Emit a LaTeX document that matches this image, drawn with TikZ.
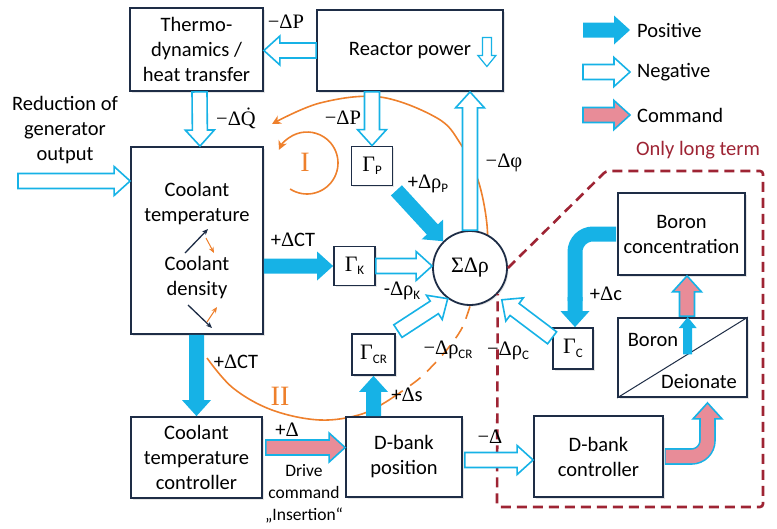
\documentclass[tikz,border=0pt]{standalone}
\usepackage{amsmath}
\usepackage{fontspec}
\setmainfont{Carlito}
\newfontfamily\gr{Liberation Serif}
\usetikzlibrary{arrows.meta,calc,positioning,shadows}
\definecolor{PosCyan}{RGB}{22,178,230}
\definecolor{CmdPink}{RGB}{232,140,152}
\definecolor{BoxNavy}{RGB}{30,45,70}
\definecolor{LoopOrange}{RGB}{238,128,44}
\definecolor{LongRed}{RGB}{158,36,52}
\newcommand{\fs}{\fontsize{20.5}{25}\selectfont}
\newcommand{\sub}[1]{\raisebox{-0.35ex}{\fontsize{13}{13}\selectfont #1}}
\newcommand{\Gam}{{\gr\fontsize{22}{22}\selectfont Γ}}
\newcommand{\arrW}{7.5pt}
\newcommand{\arrH}{14.5pt}
\newcommand{\arrL}{16pt}
% block arrow: style, from, to
\newcommand{\blockarrow}[3]{%
  \coordinate (ba-s) at #2;
  \coordinate (ba-t) at #3;
  \coordinate (ba-b) at ($(ba-t)!\arrL!(ba-s)$);
  \path[#1] ($(ba-s)!\arrW!90:(ba-t)$) -- ($(ba-b)!\arrW!-90:(ba-s)$)
    -- ($(ba-b)!\arrH!-90:(ba-s)$) -- (ba-t) -- ($(ba-b)!\arrH!90:(ba-s)$)
    -- ($(ba-b)!\arrW!90:(ba-s)$) -- ($(ba-s)!\arrW!-90:(ba-t)$) -- cycle;}

\begin{document}
\begin{tikzpicture}[x=1pt, y=-1pt,
    box/.style={draw=BoxNavy, line width=1.8pt, fill=white, align=center, font=\fs,
                inner sep=2pt, drop shadow={shadow xshift=1.5pt, shadow yshift=-1.5pt, opacity=0.2}},
    gbox/.style={box, minimum width=41, minimum height=39},
    lbl/.style={font=\fs, inner sep=0},
    posarrow/.style={fill=PosCyan},
    negarrow/.style={fill=white, draw=PosCyan, line width=1.6pt},
    cmdarrow/.style={fill=CmdPink, draw=PosCyan, line width=1.6pt},
    loopline/.style={draw=LoopOrange, line width=1.6pt},
    looptip/.style={-{Stealth[length=9pt, width=9pt]}},
    loopnum/.style={font=\gr\fontsize{28}{28}\selectfont, text=LoopOrange, inner sep=0},
    minor/.style={line width=1.3pt, -{Stealth[length=6pt, width=5pt]}},
    longterm/.style={draw=LongRed, line width=2.6pt, dash pattern=on 10pt off 6pt, rounded corners=3pt},
    node distance=6pt
]
    \useasboundingbox (0,0) rectangle (777,528);

    % feedback loops
    \draw[loopline] plot[smooth, tension=0.6] coordinates {(207,358) (233,388) (272,410) (320,420) (362,414) (392,398)};
    \draw[loopline, dash pattern=on 13pt off 9pt] plot[smooth] coordinates {(392,398) (420,378) (445,352) (462,328) (472,300)};
    \draw[loopline, looptip] plot[smooth, tension=0.6] coordinates {(472,300) (485,255) (487,225) (478,180) (460,143) (437,118) (380,97) (320,103) (272,124)};
    \draw[loopline, looptip] (307,163) ++(123:31) arc[start angle=123, end angle=-155, radius=31];
    \node[loopnum] (loopI) at (305,162) {I};
    \node[loopnum] (loopII) at (280,396) {II};

    % blocks
    \node[box, minimum width=133, minimum height=83] (thermo) at (196.5,49.5) {Thermo-\\dynamics /\\heat transfer};
    \node[box, minimum width=186, minimum height=81] (reactor) at (410,50.5) {Reactor power};
    \node[box, minimum width=132, minimum height=187] (coolant) at (197,240.5)
        {Coolant\\temperature\\[24pt]Coolant\\density};
    \node[box, minimum width=131, minimum height=81] (ctc) at (196.5,457.5) {Coolant\\temperature\\controller};
    \node[box, minimum width=116, minimum height=80] (dbpos) at (404,457) {D-bank\\position};
    \node[box, minimum width=129, minimum height=81] (dbctrl) at (598.5,456.5) {D-bank\\controller};
    \node[box, minimum width=127, minimum height=82] (boron) at (681.5,234) {Boron\\concentration};
    \node[box, minimum width=129, minimum height=79] (bordei) at (682.5,357.5) {};
    \node[gbox] (gammaP) at (372,166) {\Gam\sub{P}};
    \node[gbox] (gammaK) at (354.5,266) {\Gam\sub{K}};
    \node[gbox, minimum width=43, minimum height=41] (gammaCR) at (373.5,354.5) {\Gam\sub{CR}};
    \node[gbox, minimum width=40, minimum height=41] (gammaC) at (573,348.5) {\Gam\sub{C}};
    \node[box, circle, minimum size=74, inner sep=0, font=\gr\fontsize{22}{22}\selectfont] (sum) at (470,268) {ΣΔρ};

    % boron / deionate split
    \draw[BoxNavy, line width=1pt] (bordei.south west) -- (bordei.north east);
    \node[lbl] (boronlbl) at (653,340) {Boron};
    \node[lbl] (deionlbl) at (699,382) {Deionate};

    % coolant coupling
    \draw[BoxNavy, minor] ($(coolant.center)+(-12,12.5)$) -- ++(23,-24);
    \draw[LoopOrange, minor, line width=1pt] ($(coolant.center)+(9,-2.5)$) -- ++(8,15);
    \draw[BoxNavy, minor] ($(coolant.center)+(-9,64.5)$) -- ++(24,23);
    \draw[LoopOrange, minor, line width=1pt] ($(coolant.center)+(10,81.5)$) -- ++(10,-15);

    % long term region
    \draw[longterm] (sum.east) -- (606,171) -- (763,171) -- (763,507) -- (497,507) -- (sum.-43);
    \node[lbl, text=LongRed] (longlbl) at (698,150) {Only long term};

    % input
    \node[lbl, align=center] (redu) at (65,130) {Reduction of\\generator\\output};
    \coordinate (redstart) at (18,181);
    \blockarrow{negarrow}{(redstart)}{(coolant.west |- redstart)}

    % connectors
    \blockarrow{negarrow}{(reactor.west)}{(thermo.east |- reactor.west)}
    \blockarrow{negarrow}{($(thermo.south)+(3,0)$)}{($(coolant.north)+(3,0)$)}
    \blockarrow{negarrow}{(reactor.south -| gammaP.north)}{(gammaP.north)}
    \blockarrow{posarrow}{($(gammaP.south east)+(3,4)$)}{(sum.135)}
    \blockarrow{negarrow}{(sum.north)}{(reactor.south -| sum.north)}
    \blockarrow{posarrow}{(coolant.east |- gammaK.west)}{(gammaK.west)}
    \blockarrow{negarrow}{(gammaK.east)}{(sum.west |- gammaK.east)}
    \blockarrow{negarrow}{($(gammaCR.north east)+(2,-2)$)}{(sum.234)}
    \blockarrow{posarrow}{(gammaCR.south |- dbpos.north)}{(gammaCR.south)}
    \blockarrow{posarrow}{(ctc.north |- coolant.south)}{(ctc.north)}
    \coordinate (cmdA) at ($(ctc.east)+(3,-10)$);
    \blockarrow{cmdarrow}{(cmdA)}{(dbpos.west |- cmdA)}
    \coordinate (negA) at ($(dbpos.east)+(2,3)$);
    \blockarrow{negarrow}{(negA)}{(dbctrl.west |- negA)}
    \coordinate (negC) at ($(gammaC.north west)!0.25!(gammaC.south west)$);
    \blockarrow{negarrow}{(negC)}{($(sum.-45)+(5,5)$)}
    \coordinate (cmdB) at ($(bordei.north)+(4.5,-1)$);
    \blockarrow{cmdarrow}{(cmdB)}{(boron.south -| cmdB)}

    % bent arrows
    \draw[PosCyan, line width=15pt, rounded corners=18pt] ($(boron.west)+(-1,0)$) -| ($(gammaC.north)+(2,-26)$);
    \blockarrow{posarrow}{($(gammaC.north)+(2,-30)$)}{($(gammaC.north)+(2,0)$)}
    \coordinate (cmdtip) at ($(bordei.south)+(25,5)$);
    \draw[PosCyan, line width=16.6pt, rounded corners=16pt] ($(dbctrl.east)+(1,0)$) -| ($(cmdtip)+(0,24)$);
    \blockarrow{cmdarrow}{($(cmdtip)+(0,30)$)}{(cmdtip)}
    \draw[CmdPink, line width=13.4pt, rounded corners=16pt] ($(dbctrl.east)+(1.8,0)$) -| ($(cmdtip)+(0,24)$);

    % small arrows inside blocks
    \begin{scope}
        \renewcommand{\arrW}{4.5pt}\renewcommand{\arrH}{9pt}\renewcommand{\arrL}{11pt}
        \blockarrow{negarrow, line width=1.2pt}{($(reactor.east)+(-17,-13)$)}{($(reactor.east)+(-17,16)$)}
        \coordinate (bd) at ($(bordei.south west)!0.54!(bordei.north east)$);
        \blockarrow{posarrow}{(bd)}{(bd |- bordei.north)}
    \end{scope}

    % labels
    \node[lbl] (lPth) at (286,22) {{\gr −ΔP}};
    \node[lbl] (lQ) at (236,118) {{\gr −ΔQ̇}};
    \node[lbl] (lPg) at (343,118) {{\gr −ΔP}};
    \node[lbl] (lrhoP) at (428,184) {+{\gr Δρ}\sub{P}};
    \node[lbl] (lphi) at (504,163) {{\gr −Δφ}};
    \node[lbl] (lCTa) at (293,240) {+{\gr Δ}CT};
    \node[lbl] (lrhoK) at (402,291) {-{\gr Δρ}\sub{K}};
    \node[lbl] (lrhoCR) at (448,350) {{\gr −Δρ}\sub{CR}};
    \node[lbl] (ls) at (407,395) {+{\gr Δ}s};
    \node[lbl] (lCTb) at (236,362) {+{\gr Δ}CT};
    \node[lbl] (lplus) at (287,430) {+{\gr Δ}};
    \node[lbl, align=center, font=\fontsize{17.5}{22}\selectfont] (ldrive) at (304,494) {Drive\\command\\„Insertion“};
    \node[lbl] (lminus) at (490,437) {{\gr −Δ}};
    \node[lbl] (lc) at (606,294) {+{\gr Δ}c};
    \node[lbl] (lrhoC) at (508,351) {{\gr −Δρ}\sub{C}};

    % legend
    \coordinate (legPos) at (583,30);
    \coordinate (legNeg) at (583,72);
    \coordinate (legCmd) at (583,115);
    \blockarrow{posarrow}{(legPos)}{($(legPos)+(47,0)$)}
    \blockarrow{negarrow}{(legNeg)}{($(legNeg)+(47,0)$)}
    \blockarrow{cmdarrow}{(legCmd)}{($(legCmd)+(47,0)$)}
    \node[lbl, right=54pt of legPos] (tPos) {Positive};
    \node[lbl, right=54pt of legNeg] (tNeg) {Negative};
    \node[lbl, right=54pt of legCmd] (tCmd) {Command};
\end{tikzpicture}
\end{document}
